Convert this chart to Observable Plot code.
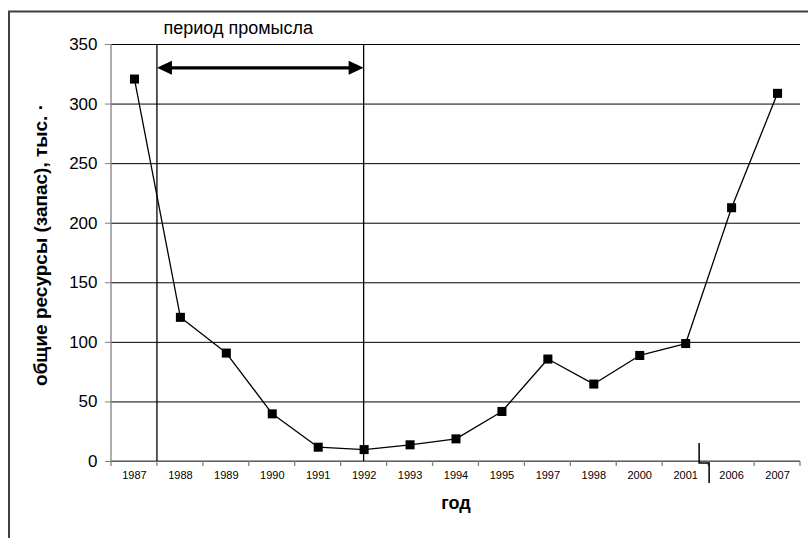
<!DOCTYPE html>
<html>
<head>
<meta charset="utf-8">
<script src="https://cdn.jsdelivr.net/npm/d3@7"></script>
<script src="https://cdn.jsdelivr.net/npm/@observablehq/plot@0.6"></script>
<style>
  html, body { margin: 0; padding: 0; background: #fff; }
  #chart svg { display: block; }
</style>
</head>
<body>
<div id="chart"></div>
<script>
const years = ["1987","1988","1989","1990","1991","1992","1993","1994","1995","1997","1998","2000","2001","2006","2007"];
const values = [321, 121, 91, 40, 12, 10, 14, 19, 42, 86, 65, 89, 99, 213, 309];
const yTicks = [0, 50, 100, 150, 200, 250, 300, 350];
const yLabel = "общие ресурсы (запас), тыс. ·";
const xLabel = "год";
const periodLabel = "период промысла";
const periodStartAfter = "1987";   // period starts at the boundary after this year
const periodEnd = "1992";
const arrowLevel = 330;
const breakAfter = "2001";

const data = years.map((year, i) => ({year, value: values[i]}));

function decorations(index, scales) {
  const {x, y} = scales;
  const g = d3.create("svg:g");
  const step = x(years[1]) - x(years[0]);
  const left = x(years[0]) - step / 2;
  const right = x(years[years.length - 1]) + step / 2;
  const y0 = y(0), yTop = y(350);
  // outer chart border
  g.append("rect").attr("x", 9).attr("y", 11.5).attr("width", 1000).attr("height", 800)
    .attr("fill", "none").attr("stroke", "#404040").attr("stroke-width", 2);
  // y axis line
  g.append("line").attr("x1", left).attr("x2", left).attr("y1", yTop).attr("y2", y0)
    .attr("stroke", "#808080").attr("stroke-width", 1.3);
  // x axis line
  g.append("line").attr("x1", left).attr("x2", right).attr("y1", y0).attr("y2", y0)
    .attr("stroke", "#808080").attr("stroke-width", 1.3);
  // x boundary ticks
  for (let k = 0; k <= years.length; k++) {
    const xx = left + k * step;
    g.append("line").attr("x1", xx).attr("x2", xx).attr("y1", y0).attr("y2", y0 + 5)
      .attr("stroke", "#808080").attr("stroke-width", 1.3);
  }
  // period vertical lines
  const xs = x(periodStartAfter) + step / 2;
  const xe = x(periodEnd);
  g.append("line").attr("x1", xs).attr("x2", xs).attr("y1", yTop).attr("y2", y0)
    .attr("stroke", "#000").attr("stroke-width", 1.3);
  g.append("line").attr("x1", xe).attr("x2", xe).attr("y1", yTop).attr("y2", y0)
    .attr("stroke", "#000").attr("stroke-width", 1.3);
  // double arrow
  const ya = y(arrowLevel);
  const hl = 15, hw = 7;
  g.append("line").attr("x1", xs + hl - 2).attr("x2", xe - hl + 2).attr("y1", ya).attr("y2", ya)
    .attr("stroke", "#000").attr("stroke-width", 3.2);
  g.append("path").attr("d", `M${xs},${ya}L${xs + hl},${ya - hw}L${xs + hl},${ya + hw}Z`).attr("fill", "#000");
  g.append("path").attr("d", `M${xe},${ya}L${xe - hl},${ya - hw}L${xe - hl},${ya + hw}Z`).attr("fill", "#000");
  // axis break symbol
  const bx = x(breakAfter) + step / 2;
  g.append("path").attr("d", `M${bx - 9},${y0 - 18}V${y0 + 2}H${bx + 1}V${y0 + 22}`)
    .attr("fill", "none").attr("stroke", "#000").attr("stroke-width", 1.5);
  return g.node();
}

const chart = Plot.plot({
  width: 808,
  height: 538,
  marginLeft: 111,
  marginRight: 8,
  marginTop: 44,
  marginBottom: 77,
  style: {fontFamily: "'Liberation Sans', Arial, sans-serif", background: "#fff", color: "#000"},
  x: {type: "point", domain: years, padding: 0.5, round: false},
  y: {domain: [0, 350]},
  marks: [
    Plot.gridY(yTicks, {stroke: "#000", strokeOpacity: 1, strokeWidth: 1}),
    Plot.axisY(yTicks, {tickSize: 6, tickPadding: 8, fontSize: 17, stroke: "#808080", fill: "#000", label: null}),
    Plot.axisX({tickSize: 0, tickPadding: 10, fontSize: 11, fill: "#000", label: null}),
    decorations,
    Plot.text([periodLabel], {x: () => periodStartAfter, y: () => 350, dx: 29, dy: -16, textAnchor: "start", fontSize: 18, fill: "#000"}),
    Plot.text([yLabel], {frameAnchor: "left", textAnchor: "middle", rotate: -90, dx: -71, dy: -8, fontWeight: "bold", fontSize: 19, fill: "#000"}),
    Plot.text([xLabel], {frameAnchor: "bottom", dy: 47, fontWeight: "bold", fontSize: 18, fill: "#000"}),
    Plot.line(data, {x: "year", y: "value", stroke: "#000", strokeWidth: 1.3}),
    Plot.dot(data, {x: "year", y: "value", symbol: "square", r: 5.1, fill: "#000", stroke: "none"})
  ]
});
document.getElementById("chart").appendChild(chart);
</script>
</body>
</html>
